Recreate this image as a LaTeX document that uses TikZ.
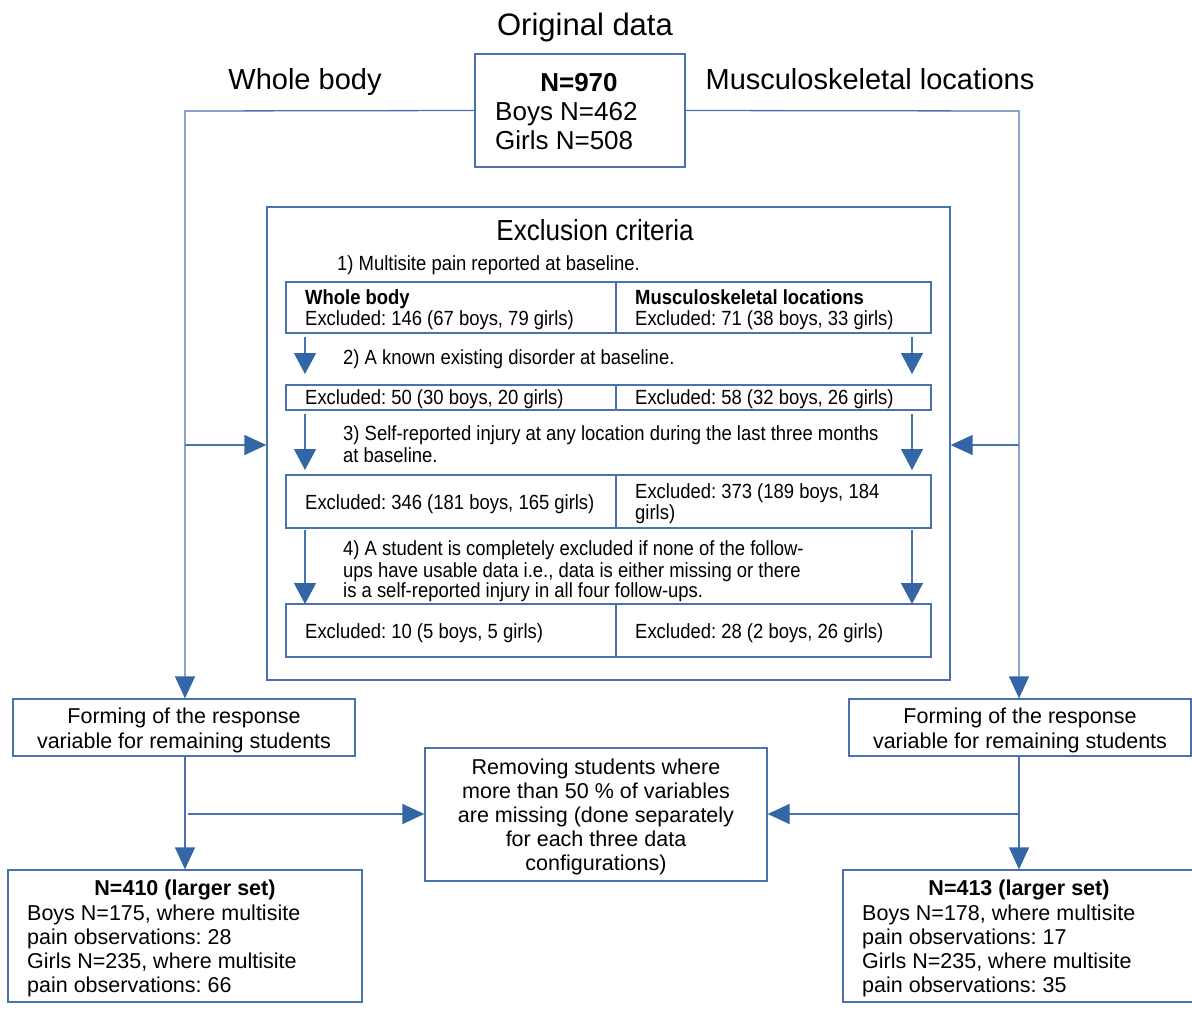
\documentclass[tikz,border=0pt]{standalone}
\usepackage{fontspec}
\setmainfont{Liberation Sans}
\newfontfamily\narrow{Liberation Sans}[FakeStretch=0.9]
\usetikzlibrary{arrows.meta}
\AtBeginDocument{\frenchspacing}
\definecolor{linecol}{RGB}{74,114,176}
\definecolor{arrowcol}{RGB}{52,101,164}
\tikzset{
  box/.style={draw=linecol, line width=1.3pt, inner sep=0pt, rectangle},
  conn/.style={draw=linecol, line width=1.3pt},
  arr/.style={conn, -{Triangle[length=22pt,width=20pt,fill=arrowcol,color=arrowcol]}},
  sarr/.style={conn, -{Triangle[length=21pt,width=22pt,fill=arrowcol,color=arrowcol]}},
  txt/.style={inner sep=0pt, anchor=base west},
  ctxt/.style={inner sep=0pt, anchor=base},
  big/.style={font=\fontsize{29}{33}\selectfont},
  mid/.style={font=\fontsize{26}{29}\selectfont},
  sm/.style={font=\fontsize{21.5}{24}\selectfont},
  nar/.style={font=\narrow\fontsize{20.5}{22}\selectfont},
}
\begin{document}
\begin{tikzpicture}[x=1pt,y=-1pt]
\useasboundingbox (0,0) rectangle (1192,1012);
% titles
\node[ctxt, font=\fontsize{31}{35}\selectfont] (title) at (585,35) {Original data};
\node[ctxt, big] (wbtitle) at (305,89) {Whole body};
\node[ctxt, big] (mstitle) at (870,89) {Musculoskeletal locations};
% top box
\node[box, minimum width=210pt, minimum height=113pt] (top) at (580,110.5) {};
\node[ctxt, font=\fontsize{26}{29}\selectfont\bfseries] (n970) at (579,91) {N=970};
\node[txt, mid] (boys) at (495,120) {Boys N=462};
\node[txt, mid] (girls) at (495,149) {Girls N=508};
% exclusion box
\node[box, minimum width=683pt, minimum height=473pt] (excl) at (608.5,443.5) {};
\node[ctxt, font=\narrow\fontsize{29}{33}\selectfont] (exclt) at (595,240) {Exclusion criteria};
\node[txt, nar] (s1) at (337,270) {1) Multisite pain reported at baseline.};
% rows
\node[box, minimum width=645pt, minimum height=51pt] (r1) at (608.5,307.5) {};
\node[box, minimum width=645pt, minimum height=25pt] (r2) at (608.5,397.5) {};
\node[box, minimum width=645pt, minimum height=53pt] (r3) at (608.5,501.5) {};
\node[box, minimum width=645pt, minimum height=53pt] (r4) at (608.5,630.5) {};
\draw[conn, line width=1.1pt] (r1.north -| 616,0) -- (r1.south -| 616,0);
\draw[conn, line width=1.1pt] (r2.north -| 616,0) -- (r2.south -| 616,0);
\draw[conn, line width=1.1pt] (r3.north -| 616,0) -- (r3.south -| 616,0);
\draw[conn, line width=1.1pt] (r4.north -| 616,0) -- (r4.south -| 616,0);
% row texts
\node[txt, font=\narrow\fontsize{20.5}{22}\selectfont\bfseries] (r1lh) at (305,304) {Whole body};
\node[txt, nar] (r1l) at (305,325) {Excluded: 146 (67 boys, 79 girls)};
\node[txt, font=\narrow\fontsize{20.5}{22}\selectfont\bfseries] (r1rh) at (635,304) {Musculoskeletal locations};
\node[txt, nar] (r1r) at (635,325) {Excluded: 71 (38 boys, 33 girls)};
\node[txt, nar] (s2) at (343,364) {2) A known existing disorder at baseline.};
\node[txt, nar] (r2l) at (305,404) {Excluded: 50 (30 boys, 20 girls)};
\node[txt, nar] (r2r) at (635,404) {Excluded: 58 (32 boys, 26 girls)};
\node[txt, nar] (s3a) at (343,440) {3) Self-reported injury at any location during the last three months};
\node[txt, nar] (s3b) at (343,462) {at baseline.};
\node[txt, nar] (r3l) at (305,509) {Excluded: 346 (181 boys, 165 girls)};
\node[txt, nar] (r3ra) at (635,498) {Excluded: 373 (189 boys, 184};
\node[txt, nar] (r3rb) at (635,519) {girls)};
\node[txt, nar] (s4a) at (343,555) {4) A student is completely excluded if none of the follow-};
\node[txt, nar] (s4b) at (343,577) {ups have usable data i.e., data is either missing or there};
\node[txt, nar] (s4c) at (343,597) {is a self-reported injury in all four follow-ups.};
\node[txt, nar] (r4l) at (305,638) {Excluded: 10 (5 boys, 5 girls)};
\node[txt, nar] (r4r) at (635,638) {Excluded: 28 (2 boys, 26 girls)};
% inner arrows
\coordinate (a1s) at (305,337); \coordinate (a1e) at (305,374);
\coordinate (b1s) at (912,337); \coordinate (b1e) at (912,374);
\coordinate (a2s) at (305,414); \coordinate (a2e) at (305,470);
\coordinate (b2s) at (912,414); \coordinate (b2e) at (912,470);
\coordinate (a3s) at (305,530); \coordinate (a3e) at (305,604);
\coordinate (b3s) at (912,530); \coordinate (b3e) at (912,604);
\draw[sarr] (a1s) -- (a1e);
\draw[sarr] (b1s) -- (b1e);
\draw[sarr] (a2s) -- (a2e);
\draw[sarr] (b2s) -- (b2e);
\draw[sarr] (a3s) -- (a3e);
\draw[sarr] (b3s) -- (b3e);
% forming boxes
\node[box, minimum width=342pt, minimum height=57pt] (fl) at (184,727.5) {};
\node[ctxt, sm] (fl1) at (184,723) {Forming of the response};
\node[ctxt, sm] (fl2) at (184,748) {variable for remaining students};
\node[box, minimum width=342pt, minimum height=57pt] (fr) at (1020,727.5) {};
\node[ctxt, sm] (fr1) at (1020,723) {Forming of the response};
\node[ctxt, sm] (fr2) at (1020,748) {variable for remaining students};
% remove box
\node[box, minimum width=342pt, minimum height=133pt] (rm) at (596,814.5) {};
\node[ctxt, sm] (rm1) at (596,774) {Removing students where};
\node[ctxt, sm] (rm2) at (596,798) {more than 50 \% of variables};
\node[ctxt, sm] (rm3) at (596,822) {are missing (done separately};
\node[ctxt, sm] (rm4) at (596,846) {for each three data};
\node[ctxt, sm] (rm5) at (596,870) {configurations)};
% result boxes
\node[box, minimum width=354pt, minimum height=132pt] (nl) at (185,936) {};
\node[ctxt, font=\fontsize{21.5}{24}\selectfont\bfseries] (nl0) at (185,895) {N=410 (larger set)};
\node[txt, sm] (nl1) at (27,920) {Boys N=175, where multisite};
\node[txt, sm] (nl2) at (27,944) {pain observations: 28};
\node[txt, sm] (nl3) at (27,968) {Girls N=235, where multisite};
\node[txt, sm] (nl4) at (27,992) {pain observations: 66};
\node[box, minimum width=352pt, minimum height=132pt] (nr) at (1019,936) {};
\node[ctxt, font=\fontsize{21.5}{24}\selectfont\bfseries] (nr0) at (1019,895) {N=413 (larger set)};
\node[txt, sm] (nr1) at (862,920) {Boys N=178, where multisite};
\node[txt, sm] (nr2) at (862,944) {pain observations: 17};
\node[txt, sm] (nr3) at (862,968) {Girls N=235, where multisite};
\node[txt, sm] (nr4) at (862,992) {pain observations: 35};
% main connectors
\coordinate (lc) at (185,111);
\coordinate (rc) at (1019,111);
\draw[arr] (top.west) -- (lc) -- (fl.north -| lc);
\draw[arr] (top.east) -- (rc) -- (fr.north -| rc);
\coordinate (lm) at (185,445);
\coordinate (rmid) at (1019,445);
\draw[arr] (lm) -- (excl.west |- lm);
\draw[arr] (rmid) -- (excl.east |- rmid);
\draw[arr] (fl.south -| lc) -- (nl.north -| lc);
\draw[arr] (fr.south -| rc) -- (nr.north -| rc);
\coordinate (lb) at (188,814);
\coordinate (rb) at (1019,814);
\draw[arr] (lb) -- (rm.west |- lb);
\draw[arr] (rb) -- (rm.east |- rb);
\end{tikzpicture}
\end{document}
